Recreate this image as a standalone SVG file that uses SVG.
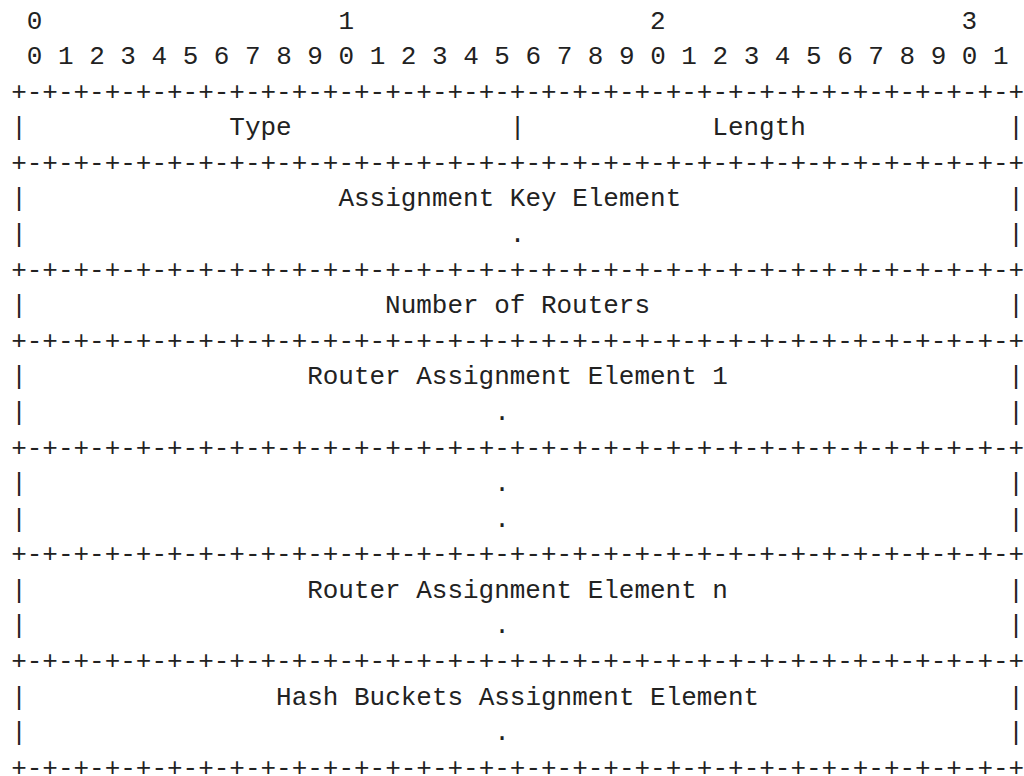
<svg xmlns="http://www.w3.org/2000/svg" width="1024" height="776" viewBox="0 0 1024 776">
<style>
text{font-family:"Liberation Mono","DejaVu Sans Mono",monospace;font-size:25.97px;fill:#222;white-space:pre}
</style>
<rect width="1024" height="776" fill="#fff"/>
<g id="ruler">
<text x="26.8" y="28.5">0</text>
<text x="338.4" y="28.5">1</text>
<text x="650.0" y="28.5">2</text>
<text x="961.6" y="28.5">3</text>
<text x="26.8" y="64.1" xml:space="preserve">0 1 2 3 4 5 6 7 8 9 0 1 2 3 4 5 6 7 8 9 0 1 2 3 4 5 6 7 8 9 0 1</text>
</g>
<g id="borders">
<text x="11.2" y="99.7">+-+-+-+-+-+-+-+-+-+-+-+-+-+-+-+-+-+-+-+-+-+-+-+-+-+-+-+-+-+-+-+-+</text>
<text x="11.2" y="170.8">+-+-+-+-+-+-+-+-+-+-+-+-+-+-+-+-+-+-+-+-+-+-+-+-+-+-+-+-+-+-+-+-+</text>
<text x="11.2" y="277.6">+-+-+-+-+-+-+-+-+-+-+-+-+-+-+-+-+-+-+-+-+-+-+-+-+-+-+-+-+-+-+-+-+</text>
<text x="11.2" y="348.7">+-+-+-+-+-+-+-+-+-+-+-+-+-+-+-+-+-+-+-+-+-+-+-+-+-+-+-+-+-+-+-+-+</text>
<text x="11.2" y="455.5">+-+-+-+-+-+-+-+-+-+-+-+-+-+-+-+-+-+-+-+-+-+-+-+-+-+-+-+-+-+-+-+-+</text>
<text x="11.2" y="562.2">+-+-+-+-+-+-+-+-+-+-+-+-+-+-+-+-+-+-+-+-+-+-+-+-+-+-+-+-+-+-+-+-+</text>
<text x="11.2" y="668.9">+-+-+-+-+-+-+-+-+-+-+-+-+-+-+-+-+-+-+-+-+-+-+-+-+-+-+-+-+-+-+-+-+</text>
<text x="11.2" y="775.7">+-+-+-+-+-+-+-+-+-+-+-+-+-+-+-+-+-+-+-+-+-+-+-+-+-+-+-+-+-+-+-+-+</text>
<g id="left-bars">
<text x="11.2" y="135.2">|</text>
<text x="11.2" y="206.4">|</text>
<text x="11.2" y="242.0">|</text>
<text x="11.2" y="313.1">|</text>
<text x="11.2" y="384.3">|</text>
<text x="11.2" y="419.9">|</text>
<text x="11.2" y="491.0">|</text>
<text x="11.2" y="526.6">|</text>
<text x="11.2" y="597.8">|</text>
<text x="11.2" y="633.4">|</text>
<text x="11.2" y="704.5">|</text>
<text x="11.2" y="740.1">|</text>
</g>
<g id="right-bars">
<text x="1008.3" y="135.2">|</text>
<text x="1008.3" y="206.4">|</text>
<text x="1008.3" y="242.0">|</text>
<text x="1008.3" y="313.1">|</text>
<text x="1008.3" y="384.3">|</text>
<text x="1008.3" y="419.9">|</text>
<text x="1008.3" y="491.0">|</text>
<text x="1008.3" y="526.6">|</text>
<text x="1008.3" y="597.8">|</text>
<text x="1008.3" y="633.4">|</text>
<text x="1008.3" y="704.5">|</text>
<text x="1008.3" y="740.1">|</text>
</g>
</g>
<g id="type-length">
<text x="229.3" y="135.2">Type</text>
<text x="509.8" y="135.2">|</text>
<text x="712.3" y="135.2">Length</text>
</g>
<g id="assignment-key-element">
<text x="338.4" y="206.4">Assignment Key Element</text>
<text x="509.8" y="242.0">.</text>
</g>
<g id="number-of-routers">
<text x="385.1" y="313.1">Number of Routers</text>
</g>
<g id="router-assignment-element-1">
<text x="307.2" y="384.3">Router Assignment Element 1</text>
<text x="494.2" y="419.9">.</text>
</g>
<g id="ellipsis">
<text x="494.2" y="491.0">.</text>
<text x="494.2" y="526.6">.</text>
</g>
<g id="router-assignment-element-n">
<text x="307.2" y="597.8">Router Assignment Element n</text>
<text x="494.2" y="633.4">.</text>
</g>
<g id="hash-buckets-assignment-element">
<text x="276.1" y="704.5">Hash Buckets Assignment Element</text>
<text x="494.2" y="740.1">.</text>
</g>
</svg>
